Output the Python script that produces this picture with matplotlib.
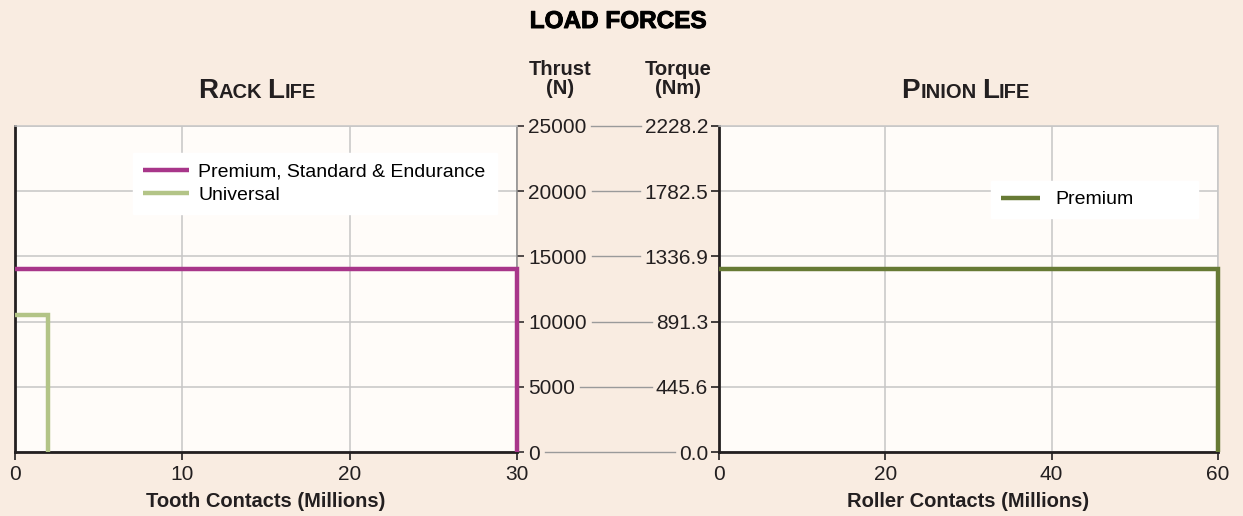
import matplotlib
matplotlib.use("Agg")
import matplotlib.pyplot as plt
import matplotlib.patheffects as pe
from matplotlib.lines import Line2D

plt.rcParams['font.family'] = ['Liberation Sans', 'DejaVu Sans']

# rack life curves: thrust (N) vs tooth contacts (millions)
rack_series = ['Premium, Standard & Endurance', 'Universal']
rack_x = [[0, 30, 30], [0, 2, 2]]
rack_y = [[14000, 14000, 0], [10500, 10500, 0]]

# pinion life curve: thrust (N) vs roller contacts (millions)
pinion_series = ['Premium']
pinion_x = [[0, 60, 60]]
pinion_y = [[14000, 14000, 0]]

thrust_ticks = [0, 5000, 10000, 15000, 20000, 25000]
torque_labels = ['0.0', '445.6', '891.3', '1336.9', '1782.5', '2228.2']
rack_xticks = [0, 10, 20, 30]
pinion_xticks = [0, 20, 40, 60]

bg = '#f9ece1'
panel = '#fffcf9'
ink = '#231f20'
grid_c = '#c6c6c6'
rack_colors = ['#a8368a', '#b3c487']
pinion_colors = ['#677a35']

fig = plt.figure(figsize=(12.43, 5.16), dpi=100, facecolor=bg)
W, H = 1243, 516


def fx(px):
    return px / W


def fy(py):
    return 1 - py / H


ax1 = fig.add_axes([fx(15), fy(452), fx(517) - fx(15), fy(126) - fy(452)])
ax2 = fig.add_axes([fx(719), fy(452), fx(1218) - fx(719), fy(126) - fy(452)])

for ax in (ax1, ax2):
    ax.set_facecolor(panel)
    ax.set_ylim(0, 25000)
    ax.set_yticks(thrust_ticks)
    ax.grid(True, color=grid_c, linewidth=1.1)
    ax.set_axisbelow(True)
    for s in ax.spines.values():
        s.set_color(grid_c)
        s.set_linewidth(1.1)
    ax.spines['bottom'].set_color(ink)
    ax.spines['bottom'].set_linewidth(2)
    ax.tick_params(axis='x', direction='out', length=6, width=1.2,
                   color=ink, labelsize=15, labelcolor=ink, pad=3)

# rack panel
ax1.set_xlim(0, 30)
ax1.set_xticks(rack_xticks)
ax1.spines['left'].set_color(ink)
ax1.spines['left'].set_linewidth(2)
ax1.spines['right'].set_color('#8a8a8a')
ax1.yaxis.tick_right()
ax1.tick_params(axis='y', direction='out', length=5, width=1.1,
                color=ink, labelsize=15, labelcolor=ink, pad=3)
for x, y, c, name in zip(rack_x, rack_y, rack_colors, rack_series):
    ax1.plot(x, y, color=c, linewidth=3.2, label=name, clip_on=False,
             solid_joinstyle='miter', solid_capstyle='butt', zorder=3)
ax1.set_xlabel('Tooth Contacts (Millions)', fontsize=14.5, fontweight='bold',
               color=ink, labelpad=6)
leg1 = ax1.legend(loc='upper left', bbox_to_anchor=(0.235, 0.736, 0.725, 0.181),
                  mode='expand', fontsize=14, frameon=True, fancybox=False,
                  handlelength=2.4, borderpad=0.5, labelspacing=0.32,
                  handletextpad=0.45, borderaxespad=0)
leg1.get_frame().set_facecolor('white')
leg1.get_frame().set_edgecolor('white')
leg1.get_frame().set_alpha(1)

# pinion panel
ax2.set_xlim(0, 60)
ax2.set_xticks(pinion_xticks)
ax2.spines['left'].set_color(ink)
ax2.spines['left'].set_linewidth(2)
ax2.set_yticklabels(torque_labels)
ax2.tick_params(axis='y', direction='out', length=6, width=1.2,
                color=ink, labelsize=15, labelcolor=ink, pad=2)
for x, y, c, name in zip(pinion_x, pinion_y, pinion_colors, pinion_series):
    ax2.plot(x, y, color=c, linewidth=3.2, label=name, clip_on=False,
             solid_joinstyle='miter', solid_capstyle='butt', zorder=3)
ax2.set_xlabel('Roller Contacts (Millions)', fontsize=14.5, fontweight='bold',
               color=ink, labelpad=6)
leg2 = ax2.legend(loc='upper left', bbox_to_anchor=(0.545, 0.724, 0.415, 0.107),
                  mode='expand', fontsize=14, frameon=True, fancybox=False,
                  handlelength=2.0, borderpad=0.5, handletextpad=0.8,
                  borderaxespad=0)
leg2.get_frame().set_facecolor('white')
leg2.get_frame().set_edgecolor('white')
leg2.get_frame().set_alpha(1)

fig.text(fx(618), fy(28), 'LOAD FORCES', ha='center', va='baseline',
         fontsize=17.5, fontweight='heavy', color='black',
         path_effects=[pe.withStroke(linewidth=0.7, foreground='black')])
fig.text(fx(560), fy(94), 'Thrust\n(N)', ha='center', va='baseline',
         fontsize=14.5, fontweight='bold', color=ink, linespacing=1.02)
fig.text(fx(678), fy(94), 'Torque\n(Nm)', ha='center', va='baseline',
         fontsize=14.5, fontweight='bold', color=ink, linespacing=1.02)


def small_caps(text, cx, base, big=20, small=14.5):
    # split words into a large initial and smaller upper-case remainder
    pieces = []
    for i, word in enumerate(text.split(' ')):
        if i:
            pieces.append((' ', small))
        pieces.append((word[0].upper(), big))
        pieces.append((word[1:].upper(), small))
    renderer = fig.canvas.get_renderer()
    arts = []
    widths = []
    for s, size in pieces:
        t = fig.text(0, fy(base), s, fontsize=size, color=ink, va='baseline',
                     ha='left', fontweight='bold',
                     family=['Liberation Sans Narrow', 'Liberation Sans'])
        if s == ' ':
            t.set_text('a a')
            w = t.get_window_extent(renderer).width
            t.set_text('aa')
            w -= t.get_window_extent(renderer).width
            t.set_text('')
        else:
            w = t.get_window_extent(renderer).width
        arts.append(t)
        widths.append(w)
    x = cx - sum(widths) / 2
    for t, w in zip(arts, widths):
        t.set_x(fx(x))
        x += w


small_caps('Rack Life', 257, 98)
small_caps('Pinion Life', 966, 98)

# lines joining the thrust and torque labels
fig.canvas.draw()
renderer = fig.canvas.get_renderer()
left_labels = [l for l in ax1.get_yticklabels() if l.get_text()]
right_labels = [l for l in ax2.get_yticklabels() if l.get_text()]
for t, la, lb in zip(thrust_ticks, left_labels, right_labels):
    yy = ax1.transData.transform((0, t))[1]
    x0 = la.get_window_extent(renderer).x1 + 5
    x1 = lb.get_window_extent(renderer).x0 - 4
    fig.add_artist(Line2D([x0 / W, x1 / W], [yy / H, yy / H], color='#9a9a9a',
                          linewidth=1.0))

fig.savefig('out.png', dpi=100, facecolor=bg)
